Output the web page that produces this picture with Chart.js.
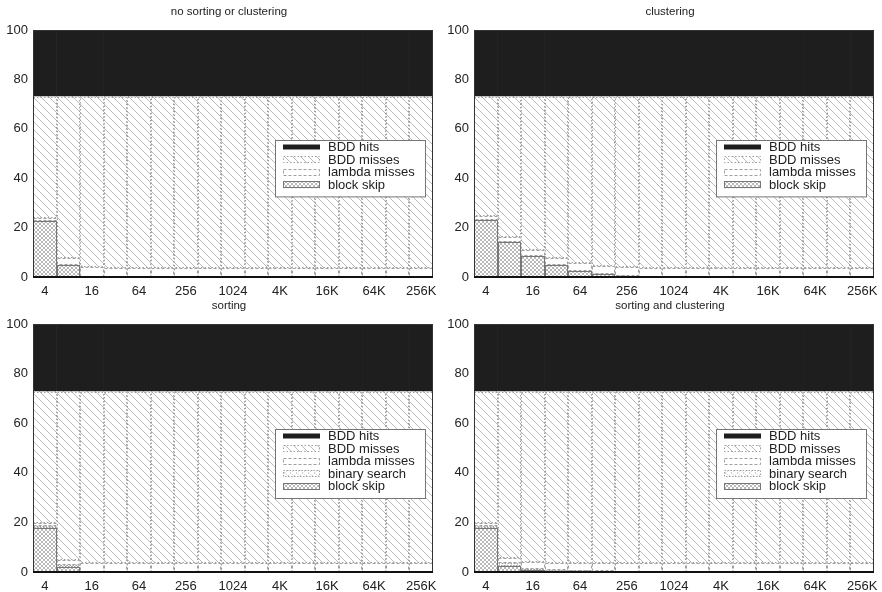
<!DOCTYPE html>
<html><head><meta charset="utf-8">
<script src="https://cdn.jsdelivr.net/npm/chart.js@4.4.0/dist/chart.umd.min.js"></script>
<style>
html,body{margin:0;padding:0;background:#fff;}
#wrap{position:relative;width:882px;height:592px;overflow:hidden;}
canvas{position:absolute;}
</style></head><body>
<div id="wrap">
<canvas id="c1" width="441" height="296" style="left:0;top:0"></canvas>
<canvas id="c2" width="441" height="296" style="left:441px;top:0"></canvas>
<canvas id="c3" width="441" height="296" style="left:0;top:296px"></canvas>
<canvas id="c4" width="441" height="296" style="left:441px;top:296px"></canvas>
</div>
<script>
// ---- data ----
const categories = ['4','8','16','32','64','128','256','512','1024','2K','4K','8K','16K','32K','64K','128K','256K'];
const tickLabels = ['4','','16','','64','','256','','1024','','4K','','16K','','64K','','256K'];
const yTicks = [0,20,40,60,80,100];
const titles = ['no sorting or clustering','clustering','sorting','sorting and clustering'];

// panel 1: no sorting or clustering
const p1BlockSkip   = [22.7,4.8,0,0,0,0,0,0,0,0,0,0,0,0,0,0,0];
const p1LambdaMiss  = [1.3,2.7,3.9,3.6,3.5,3.5,3.5,3.5,3.5,3.5,3.5,3.5,3.5,3.5,3.5,3.5,3.5];
const p1BddMiss     = [49.0,65.5,69.1,69.4,69.5,69.5,69.5,69.5,69.5,69.5,69.5,69.5,69.5,69.5,69.5,69.5,69.5];
const p1BddHits     = [27,27,27,27,27,27,27,27,27,27,27,27,27,27,27,27,27];

// panel 2: clustering
const p2BlockSkip   = [23.0,14.2,8.3,4.8,2.3,1.2,0.5,0,0,0,0,0,0,0,0,0,0];
const p2LambdaMiss  = [1.5,1.8,2.6,2.7,3.2,3.3,3.4,3.7,3.5,3.5,3.5,3.5,3.5,3.5,3.5,3.5,3.5];
const p2BddMiss     = [48.5,57.0,62.1,65.5,67.5,68.5,69.1,69.3,69.5,69.5,69.5,69.5,69.5,69.5,69.5,69.5,69.5];
const p2BddHits     = [27,27,27,27,27,27,27,27,27,27,27,27,27,27,27,27,27];

// panel 3: sorting
const p3BlockSkip   = [17.7,1.9,0,0,0,0,0,0,0,0,0,0,0,0,0,0,0];
const p3BinSearch   = [1.0,1.1,0,0,0,0,0,0,0,0,0,0,0,0,0,0,0];
const p3LambdaMiss  = [1.1,2.0,3.6,3.6,3.6,3.6,3.6,3.6,3.6,3.6,3.6,3.6,3.6,3.6,3.6,3.6,3.6];
const p3BddMiss     = [52.9,67.7,69.1,69.1,69.1,69.1,69.1,69.1,69.1,69.1,69.1,69.1,69.1,69.1,69.1,69.1,69.1];
const p3BddHits     = [27.3,27.3,27.3,27.3,27.3,27.3,27.3,27.3,27.3,27.3,27.3,27.3,27.3,27.3,27.3,27.3,27.3];

// panel 4: sorting and clustering
const p4BlockSkip   = [17.7,2.5,0.9,0.5,0.3,0.2,0,0,0,0,0,0,0,0,0,0,0];
const p4BinSearch   = [1.0,1.1,0.3,0.2,0.1,0.1,0,0,0,0,0,0,0,0,0,0,0];
const p4LambdaMiss  = [1.1,2.0,2.8,3.1,3.3,3.3,3.6,3.6,3.6,3.6,3.6,3.6,3.6,3.6,3.6,3.6,3.6];
const p4BddMiss     = [52.9,67.1,68.7,68.9,69.0,69.1,69.1,69.1,69.1,69.1,69.1,69.1,69.1,69.1,69.1,69.1,69.1];
const p4BddHits     = [27.3,27.3,27.3,27.3,27.3,27.3,27.3,27.3,27.3,27.3,27.3,27.3,27.3,27.3,27.3,27.3,27.3];

// ---- patterns ----
function makePattern(size, color, lw, back, fwd, dash){
  const c = document.createElement('canvas');
  c.width = size; c.height = size;
  const g = c.getContext('2d');
  g.fillStyle = '#fff'; g.fillRect(0,0,size,size);
  g.strokeStyle = color; g.lineWidth = lw;
  if (dash) g.setLineDash(dash);
  g.beginPath();
  for (let k=-1;k<=1;k++){
    if (back){ g.moveTo(k*size,0); g.lineTo(k*size+size,size); }
    if (fwd){ g.moveTo(k*size,size); g.lineTo(k*size+size,0); }
  }
  g.stroke();
  return g.createPattern(c,'repeat');
}
const patMiss  = makePattern(8,'#a8a8a8',0.8,true,false);
const patBlock = makePattern(4,'#999999',0.7,true,true);
const patBin   = makePattern(6,'#b8b8b8',0.7,true,true,[1.5,1.5]);

const FONT = '"Liberation Sans", Arial, Helvetica, sans-serif';

const styles = {
  'BDD hits':      {bg:'#1e1e1e', outline:null},
  'BDD misses':    {bg:patMiss, outline:'#a0a0a0', dash:[1.5,2]},
  'lambda misses': {bg:'#ffffff', outline:'#a0a0a0', dash:[3,2]},
  'binary search': {bg:patBin, outline:'#a0a0a0', dash:[1.5,1.5]},
  'block skip':    {bg:patBlock, outline:'#777', dash:[]}
};

const decor = {
  id:'decor',
  afterDatasetsDraw(chart, args, opts){
    const ctx = chart.ctx, a = chart.chartArea;
    ctx.save();
    // bar outlines
    chart.data.datasets.forEach((ds, di)=>{
      const st = styles[ds.label];
      if (!st.outline) return;
      const meta = chart.getDatasetMeta(di);
      ctx.strokeStyle = st.outline; ctx.lineWidth = 1; ctx.setLineDash(st.dash);
      meta.data.forEach((el, i)=>{
        if (!ds.data[i]) return;
        const p = el.getProps(['x','y','base','width'], true);
        const x0 = Math.round(p.x - p.width/2)+0.5, x1 = Math.round(p.x + p.width/2)-0.5;
        ctx.strokeRect(x0, Math.round(p.y)+0.5, x1-x0, Math.round(p.base)-Math.round(p.y)-1);
      });
    });
    ctx.setLineDash([]);
    // frame
    ctx.strokeStyle = '#333'; ctx.lineWidth = 1;
    ctx.strokeRect(Math.round(a.left)+0.5, Math.round(a.top)+0.5, Math.round(a.right-a.left)-1, Math.round(a.bottom-a.top));
    ctx.strokeStyle = '#111'; ctx.lineWidth = 2;
    ctx.beginPath(); ctx.moveTo(a.left, Math.round(a.bottom)); ctx.lineTo(a.right, Math.round(a.bottom)); ctx.stroke();
    // title
    ctx.fillStyle = '#222'; ctx.font = '11.5px ' + FONT; ctx.textAlign='center'; ctx.textBaseline='middle';
    ctx.fillText(opts.title, (a.left+a.right)/2 - 4, opts.titleY);
    // legend
    const L = opts.legend;
    const items = chart.data.datasets.slice().reverse();
    const boxTop = L.top, boxH = items.length*L.step + 6;
    ctx.fillStyle = '#fff';
    ctx.fillRect(L.left, boxTop, L.width, boxH);
    ctx.strokeStyle = '#777'; ctx.lineWidth = 1;
    ctx.strokeRect(L.left+0.5, boxTop+0.5, L.width, boxH);
    items.forEach((ds, k)=>{
      const cy = boxTop + 7 + k*L.step;
      const st = styles[ds.label];
      const sx = L.left + 8, sw = 37;
      if (ds.label === 'BDD hits'){
        ctx.fillStyle = st.bg; ctx.fillRect(sx, cy-2.5, sw, 5);
      } else {
        ctx.fillStyle = st.bg; ctx.fillRect(sx, cy-3.5, sw, 7);
        ctx.strokeStyle = st.outline; ctx.setLineDash(st.dash); ctx.lineWidth = 1;
        ctx.strokeRect(sx+0.5, Math.round(cy-3.5)+0.5, sw-1, 6);
        ctx.setLineDash([]);
      }
      ctx.fillStyle = '#222'; ctx.font = '13px ' + FONT; ctx.textAlign='left'; ctx.textBaseline='middle';
      ctx.fillText(ds.label, L.left + 53, cy+0.5);
    });
    ctx.restore();
  }
};

function makeChart(id, title, series, top, xh, legendTop){
  const datasets = series.map(([label, data])=>({
    label, data, backgroundColor: styles[label].bg, borderWidth:0,
    barPercentage:1, categoryPercentage:1
  }));
  return new Chart(document.getElementById(id), {
    type:'bar',
    data:{labels:categories, datasets},
    options:{
      responsive:false, animation:false,
      layout:{padding:{top:top, left:0, right:8, bottom:0}},
      plugins:{legend:{display:false}, tooltip:{enabled:false},
        decor:{title, titleY: top-18, legend:{left:275, top:legendTop, width:150, step:12.6}}},
      scales:{
        x:{stacked:true, grid:{display:false, drawTicks:false}, border:{display:false},
           ticks:{autoSkip:false, maxRotation:0, padding:7, color:'#222', font:{family:FONT, size:13},
                  callback:(v,i)=>tickLabels[i]},
           afterFit:(s)=>{s.height = xh; s.paddingLeft = 0; s.paddingRight = 0;}},
        y:{stacked:true, min:0, max:100, grid:{display:false, drawTicks:false}, border:{display:false},
           afterBuildTicks:(s)=>{s.ticks = yTicks.map(v=>({value:v}));},
           ticks:{padding:5, color:'#222', font:{family:FONT, size:13}},
           afterFit:(s)=>{s.width = 33; s.paddingTop = 0; s.paddingBottom = 0;}}
      }
    },
    plugins:[decor]
  });
}

makeChart('c1', titles[0], [['block skip',p1BlockSkip],['lambda misses',p1LambdaMiss],['BDD misses',p1BddMiss],['BDD hits',p1BddHits]], 30, 19, 140);
makeChart('c2', titles[1], [['block skip',p2BlockSkip],['lambda misses',p2LambdaMiss],['BDD misses',p2BddMiss],['BDD hits',p2BddHits]], 30, 19, 140);
makeChart('c3', titles[2], [['block skip',p3BlockSkip],['binary search',p3BinSearch],['lambda misses',p3LambdaMiss],['BDD misses',p3BddMiss],['BDD hits',p3BddHits]], 28, 20, 133);
makeChart('c4', titles[3], [['block skip',p4BlockSkip],['binary search',p4BinSearch],['lambda misses',p4LambdaMiss],['BDD misses',p4BddMiss],['BDD hits',p4BddHits]], 28, 20, 133);
</script>
</body></html>
